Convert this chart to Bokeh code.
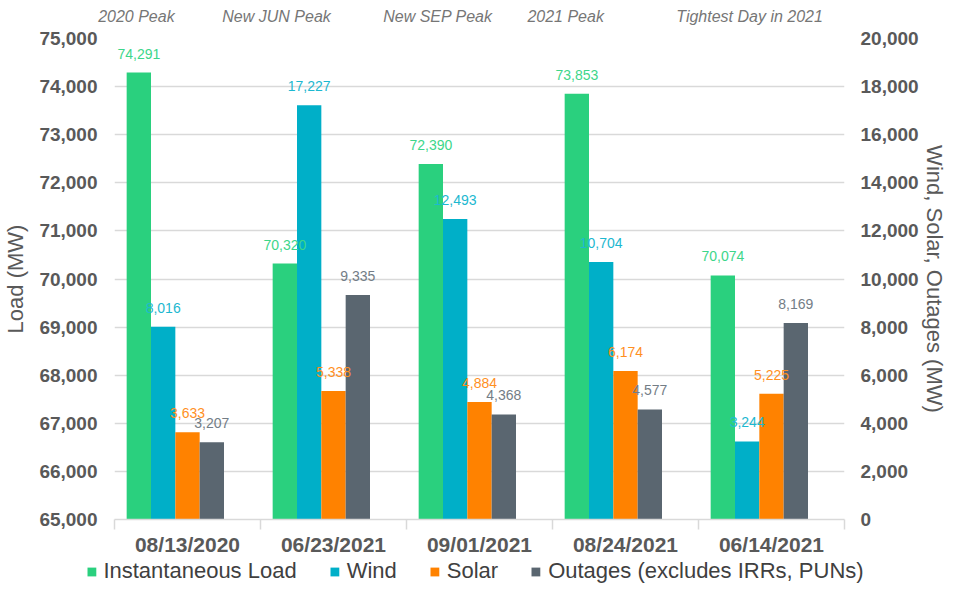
from bokeh.plotting import figure
from bokeh.models import (Range1d, LinearAxis, FixedTicker, NumeralTickFormatter,
                          ColumnDataSource, Legend, LegendItem)
from bokeh.core.properties import value
from bokeh.embed import file_html
from bokeh.resources import INLINE

# ---- data ----
dates = ["08/13/2020", "06/23/2021", "09/01/2021", "08/24/2021", "06/14/2021"]
notes = ["2020 Peak", "New JUN Peak", "New SEP Peak", "2021 Peak", "Tightest Day in 2021"]
load = [74291, 70320, 72390, 73853, 70074]
wind = [8016, 17227, 12493, 10704, 3244]
solar = [3633, 5338, 4884, 6174, 5225]
outages = [3207, 9335, 4368, 4577, 8169]

# ---- styles ----
FONT = "Liberation Sans"
C_LOAD, C_WIND, C_SOLAR, C_OUT = "#2AD07E", "#00AFC8", "#FF8200", "#5A6670"
L_LOAD, L_WIND, L_SOLAR, L_OUT = "#3DD68A", "#1DB8D0", "#FF8F1F", "#737D86"
GRID = "#D9D9D9"
note_shift = [-0.35, -0.39, -0.285, -0.41, -0.15]

n = len(dates)
centers = [i + 0.5 for i in range(n)]
bw = 1 / 6

p = figure(width=949, height=558, output_backend="svg", toolbar_location=None,
           x_range=Range1d(0, n), y_range=Range1d(65000, 75000),
           min_border_left=107, min_border_right=100, min_border_top=38,
           min_border_bottom=30)
p.extra_y_ranges = {"right": Range1d(0, 20000)}
p.outline_line_color = None

series = [
    ("Instantaneous Load", load, -1 / 3, C_LOAD, L_LOAD, "default"),
    ("Wind", wind, -1 / 6, C_WIND, L_WIND, "right"),
    ("Solar", solar, 0.0, C_SOLAR, L_SOLAR, "right"),
    ("Outages (excludes IRRs, PUNs)", outages, 1 / 6, C_OUT, L_OUT, "right"),
]

srcs = []
for name, vals, off, col, lcol, rng in series:
    xs = [c + off for c in centers]
    bottom = 65000 if rng == "default" else 0
    src = ColumnDataSource(dict(x=xs, top=vals, bottom=[bottom] * n,
                                lbl=[f"{v:,}" for v in vals]))
    p.vbar(x="x", top="top", bottom="bottom", width=bw, source=src,
           fill_color=col, line_color=None, y_range_name=rng)
    srcs.append((src, lcol, rng))

for src, lcol, rng in srcs:
    p.text(x="x", y="top", text="lbl", source=src, y_range_name=rng,
           text_align="center", text_baseline="bottom", y_offset=-14,
           text_font_size="14px", text_color=lcol, text_font=value(FONT))

# bottom axis: dates centred, boundary ticks
p.xaxis.ticker = FixedTicker(ticks=centers, minor_ticks=list(range(n + 1)))
p.xaxis.major_label_overrides = {c: d for c, d in zip(centers, dates)}
p.xaxis.major_tick_line_color = None
p.xaxis.major_tick_out = 0
p.xaxis.major_tick_in = 0
p.xaxis.minor_tick_line_color = GRID
p.xaxis.minor_tick_line_width = 1.5
p.xaxis.minor_tick_out = 10
p.xaxis.minor_tick_in = 0
p.xaxis.axis_line_color = GRID
p.xaxis.axis_line_width = 1.5
p.xaxis.major_label_text_font = FONT
p.xaxis.major_label_text_font_size = "21px"
p.xaxis.major_label_text_font_style = "bold"
p.xaxis.major_label_text_color = "#595959"
p.xaxis.major_label_standoff = 3

# top axis used for the notes
top_ticks = [c + s for c, s in zip(centers, note_shift)]
ta = LinearAxis(ticker=FixedTicker(ticks=top_ticks, minor_ticks=[]),
                major_label_overrides={t: s for t, s in zip(top_ticks, notes)})
ta.axis_line_color = None
ta.major_tick_line_color = None
ta.major_tick_out = 0
ta.major_tick_in = 0
ta.minor_tick_line_color = None
ta.major_label_standoff = 14
ta.major_label_text_font = FONT
ta.major_label_text_font_size = "16px"
ta.major_label_text_font_style = "italic"
ta.major_label_text_color = "#767676"
p.add_layout(ta, "above")

p.yaxis.ticker = FixedTicker(ticks=list(range(65000, 75001, 1000)))
p.yaxis.formatter = NumeralTickFormatter(format="0,0")
p.yaxis.axis_label = "Load (MW)"

ra = LinearAxis(y_range_name="right", ticker=FixedTicker(ticks=list(range(0, 20001, 2000))),
                formatter=NumeralTickFormatter(format="0,0"),
                axis_label="Wind, Solar, Outages (MW)")
p.add_layout(ra, "right")

for ax in [p.yaxis[0], ra]:
    ax.axis_line_color = None
    ax.major_tick_line_color = None
    ax.major_tick_out = 0
    ax.major_tick_in = 0
    ax.minor_tick_line_color = None
    ax.minor_tick_out = 0
    ax.minor_tick_in = 0
    ax.major_label_text_font = FONT
    ax.major_label_text_font_size = "19px"
    ax.major_label_text_font_style = "bold"
    ax.major_label_text_color = "#595959"
    ax.axis_label_text_font = FONT
    ax.axis_label_text_font_size = "22px"
    ax.axis_label_text_font_style = "normal"
    ax.axis_label_text_color = "#595959"
p.yaxis[0].major_label_standoff = 17
ra.major_label_standoff = 16
p.yaxis[0].axis_label_standoff = 8
ra.axis_label_standoff = 0

p.xgrid.grid_line_color = None
p.ygrid.grid_line_color = GRID
p.ygrid.grid_line_width = 1.5

# legend in its own strip below (separate root, full width)
lp = figure(width=949, height=33, output_backend="svg", toolbar_location=None,
            x_range=Range1d(0, 1), y_range=Range1d(0, 1),
            x_axis_location=None, y_axis_location=None,
            min_border=0)
lp.outline_line_color = None
lp.grid.visible = False
items = []
for (name, vals, off, col, lcol, rng), (src, _, _) in zip(series, srcs):
    r = lp.vbar(x="x", top="top", bottom="bottom", width=bw, source=src,
                fill_color=col, line_color=None, visible=False)
    items.append(LegendItem(label=name, renderers=[r]))
legend = Legend(items=items, orientation="horizontal", location="top_center",
                label_text_font=FONT, label_text_font_size="22px",
                label_text_color="#404040", glyph_width=11, glyph_height=11,
                spacing=32, label_standoff=7, border_line_color=None,
                background_fill_alpha=0, padding=0, margin=0,
                inactive_fill_alpha=0)
lp.add_layout(legend)

open("out.html", "w").write(file_html([p, lp], INLINE))
